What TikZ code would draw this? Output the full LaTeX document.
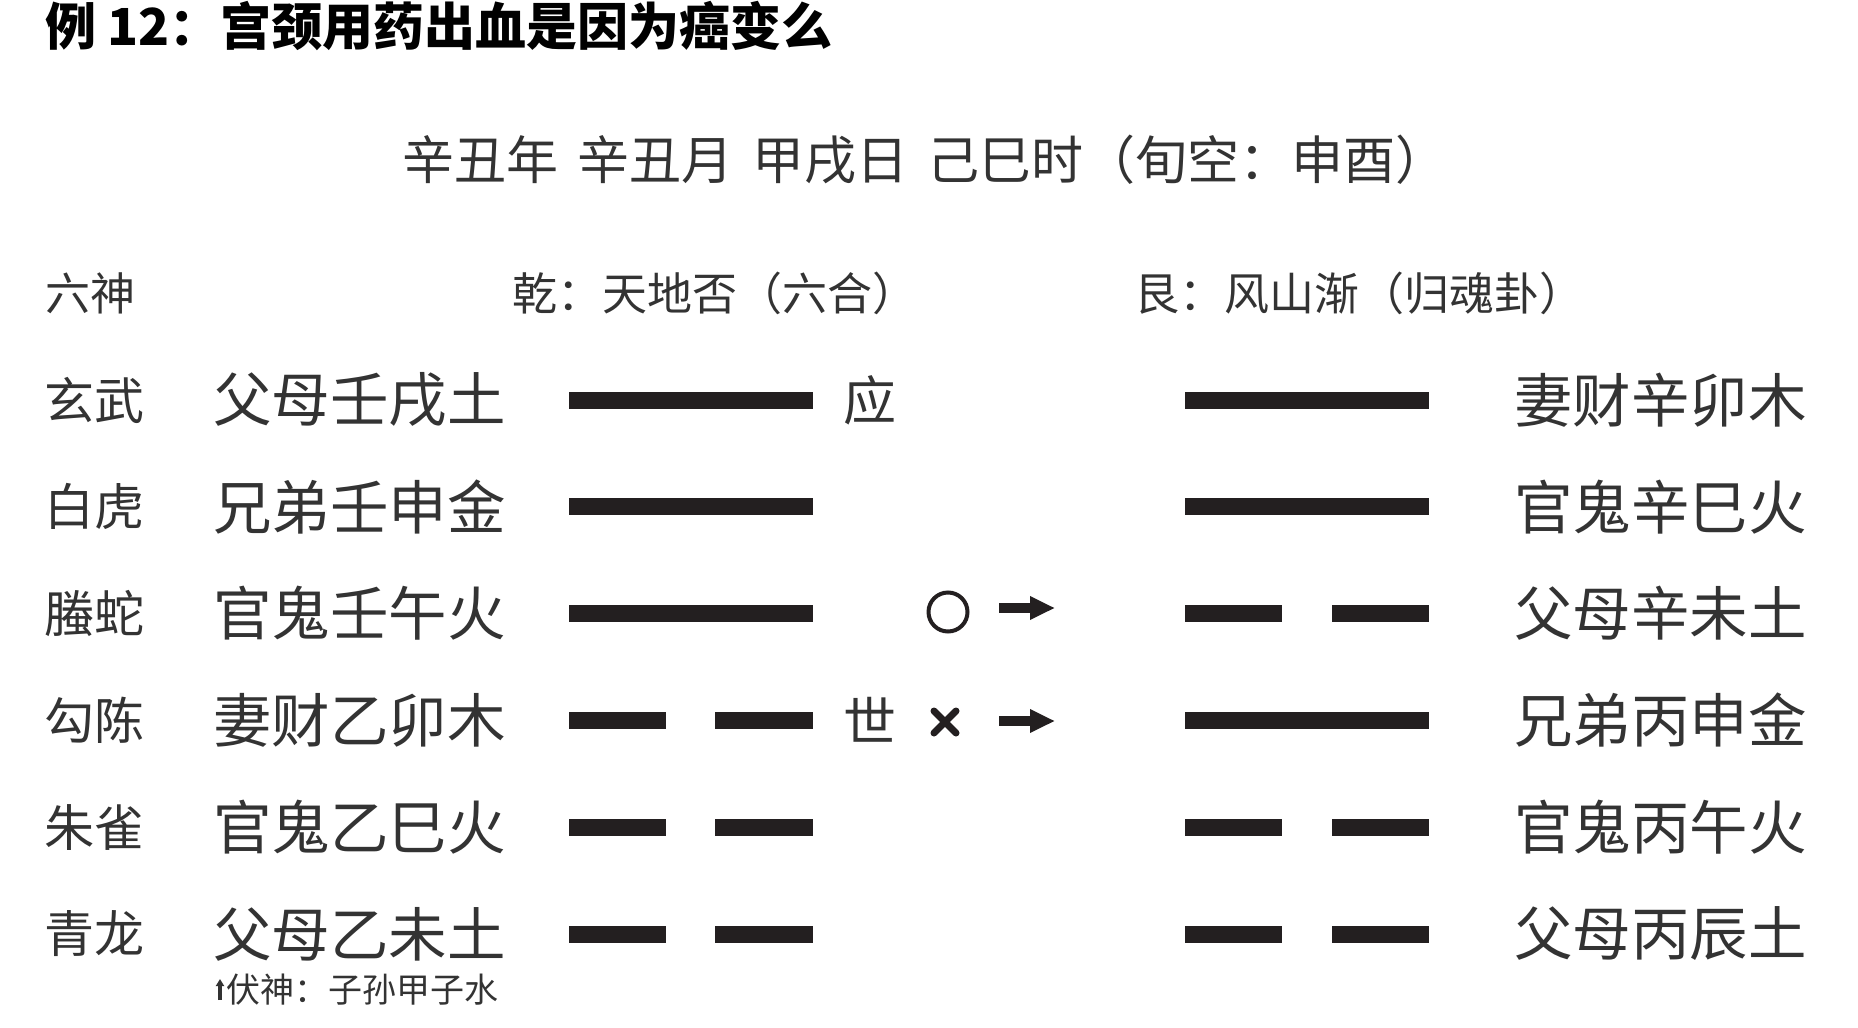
\documentclass[tikz,border=0pt]{standalone}
\usepackage{fontspec}
\setmainfont{Noto Sans CJK SC}
\usetikzlibrary{arrows.meta, positioning}
\definecolor{txtgray}{HTML}{333333}
\definecolor{yaoblack}{HTML}{231F20}

\tikzset{
  txt/.style={inner sep=0pt, anchor=west, text=txtgray},
  yao/.style={line width=17pt, yaoblack},
  movearrow/.style={line width=10pt, yaoblack, -{Triangle[length=25pt,width=22pt]}},
}

\begin{document}
\begin{tikzpicture}[x=1pt, y=-1pt]
\useasboundingbox (0,0) rectangle (1858,1028);

% 标题
\node[txt, text=black, font=\fontsize{51}{51}\selectfont\bfseries] (title) at (45,26) {例 12：宫颈用药出血是因为癌变么};
% 日期
\node[txt, font=\fontsize{52}{52}\selectfont] (date) at (402,160) {辛丑年\hspace{19pt}辛丑月\hspace{19pt}甲戌日\hspace{19pt}己巳时（旬空：申酉）};

% 表头
\node[txt, font=\fontsize{45}{45}\selectfont] (liushen) at (45,293) {六神};
\node[txt, font=\fontsize{45}{45}\selectfont] (bengua) at (512,293) {乾：天地否（六合）};
\node[txt, font=\fontsize{45}{45}\selectfont] (biangua) at (1134,293) {艮：风山渐（归魂卦）};

% 六爻
\foreach \god/\lab/\rlab [count=\i] in {玄武/父母壬戌土/妻财辛卯木, 白虎/兄弟壬申金/官鬼辛巳火, 
    螣蛇/官鬼壬午火/父母辛未土, 勾陈/妻财乙卯木/兄弟丙申金, 朱雀/官鬼乙巳火/官鬼丙午火, 
    青龙/父母乙未土/父母丙辰土} {
  \pgfmathsetmacro\ry{400+(\i-1)*106.8}
  \node[txt, font=\fontsize{50}{50}\selectfont] (god\i) at (44,\ry) {\god};
  \node[txt, font=\fontsize{58.5}{58.5}\selectfont] (left\i) at (213,\ry) {\lab};
  \node[txt, font=\fontsize{58.5}{58.5}\selectfont] (right\i) at (1514,\ry) {\rlab};
}

% 本卦
\foreach \yy [count=\i] in {1,1,1,0,0,0} {
  \pgfmathsetmacro\ry{400+(\i-1)*106.8}
  \ifnum\yy=1
    \draw[yao] (569,\ry) -- (813,\ry);
  \else
    \draw[yao] (569,\ry) -- (666,\ry);
    \draw[yao] (715,\ry) -- (813,\ry);
  \fi
}
% 变卦
\foreach \yy [count=\i] in {1,1,0,1,0,0} {
  \pgfmathsetmacro\ry{400+(\i-1)*106.8}
  \ifnum\yy=1
    \draw[yao] (1185,\ry) -- (1429,\ry);
  \else
    \draw[yao] (1185,\ry) -- (1282,\ry);
    \draw[yao] (1332,\ry) -- (1429,\ry);
  \fi
}

% 世应
\node[inner sep=0pt, text=txtgray, font=\fontsize{53}{53}\selectfont] (ying) at (870,400) {应};
\node[inner sep=0pt, text=txtgray, font=\fontsize{53}{53}\selectfont] (shi) at (870,720) {世};

% 动爻
\node[draw=yaoblack, circle, line width=4pt, minimum size=39pt, inner sep=0pt] (dong3) at (948,612) {};
\draw[yaoblack, line width=7pt, line cap=round] (934,711) -- (956,733) (934,733) -- (956,711);
\coordinate (a3s) at (999,608);
\coordinate (a3e) at (1055,608);
\coordinate (a4s) at (999,721);
\coordinate (a4e) at (1055,721);
\draw[movearrow] (a3s) -- (a3e);
\draw[movearrow] (a4s) -- (a4e);

% 伏神
\node[txt, font=\fontsize{34}{34}\selectfont] (fushen) at (226,990) {伏神：子孙甲子水};
\draw[txtgray, line width=4pt, -{Triangle[length=7pt,width=8pt]}] ([xshift=-6pt,yshift=-10pt]fushen.west) -- ++(0,-21);

\end{tikzpicture}
\end{document}
